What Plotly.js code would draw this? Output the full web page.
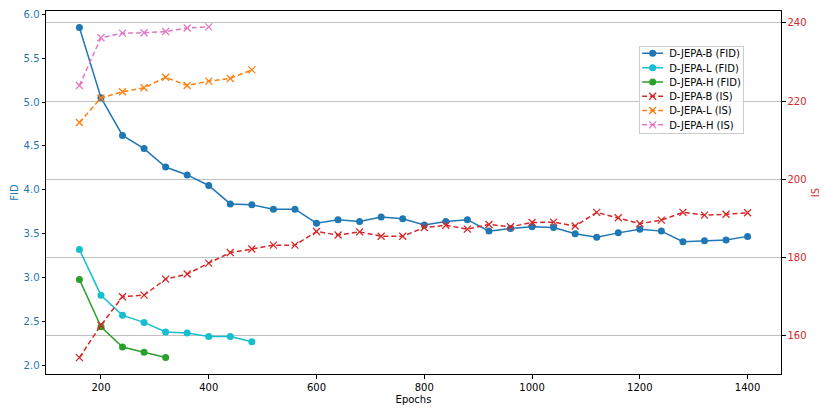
<!DOCTYPE html>
<html>
<head>
<meta charset="utf-8">
<script src="https://cdn.plot.ly/plotly-3.0.1.min.js"></script>
<style>html,body{margin:0;padding:0;background:#fff;}#chart{width:830px;height:415px;}</style>
</head>
<body>
<div id="chart"></div>
<script>
const epochsB = [160,200,240,280,320,360,400,440,480,520,560,600,640,680,720,760,800,840,880,920,960,1000,1040,1080,1120,1160,1200,1240,1280,1320,1360,1400];
const epochsL = [160,200,240,280,320,360,400,440,480];
const epochsH = [160,200,240,280,320,360,400];
const epochsHFid = [160,200,240,280,320];

const fidB = [5.85,5.05,4.62,4.47,4.26,4.17,4.05,3.84,3.83,3.78,3.78,3.62,3.66,3.64,3.69,3.67,3.60,3.64,3.66,3.53,3.56,3.58,3.57,3.50,3.46,3.51,3.55,3.53,3.41,3.42,3.43,3.47];
const fidL = [3.32,2.80,2.57,2.49,2.38,2.37,2.33,2.33,2.27];
const fidH = [2.98,2.44,2.21,2.15,2.09];

const isB = [154.3,162.6,169.9,170.3,174.4,175.7,178.5,181.2,182.1,183.1,183.1,186.6,185.7,186.5,185.4,185.4,187.6,188.2,187.2,188.4,187.8,188.9,189.0,188.0,191.5,190.1,188.6,189.5,191.5,190.8,191.0,191.4];
const isL = [214.5,220.8,222.4,223.4,226.1,224.0,225.1,225.8,228.0];
const isH = [224.0,236.2,237.4,237.5,237.8,238.7,239.0];

const names = ['D-JEPA-B (FID)','D-JEPA-L (FID)','D-JEPA-H (FID)','D-JEPA-B (IS)','D-JEPA-L (IS)','D-JEPA-H (IS)'];

function fidTrace(x, y, name, color) {
  return {x: x, y: y, name: name, type: 'scatter', mode: 'lines+markers', yaxis: 'y',
    line: {color: color, width: 1.5}, marker: {symbol: 'circle', size: 7, color: color}};
}
function isTrace(x, y, name, color) {
  return {x: x, y: y, name: name, type: 'scatter', mode: 'lines+markers', yaxis: 'y2',
    line: {color: color, width: 1.5, dash: '5px,3px'},
    marker: {symbol: 'x-thin', size: 7, color: color, line: {color: color, width: 1.3}}};
}

const data = [
  fidTrace(epochsB, fidB, names[0], '#1f77b4'),
  fidTrace(epochsL, fidL, names[1], '#17becf'),
  fidTrace(epochsHFid, fidH, names[2], '#2ca02c'),
  isTrace(epochsB, isB, names[3], '#d62728'),
  isTrace(epochsL, isL, names[4], '#ff7f0e'),
  isTrace(epochsH, isH, names[5], '#e377c2')
];

const font = {family: 'DejaVu Sans, sans-serif', size: 10, color: '#000'};
const layout = {
  width: 830, height: 415,
  margin: {l: 46, r: 49, t: 11, b: 41},
  paper_bgcolor: '#fff', plot_bgcolor: '#fff',
  font: font,
  showlegend: true,
  legend: {x: 0.807, y: 0.904, xanchor: 'left', yanchor: 'top',
    bgcolor: 'rgba(255,255,255,0.8)', bordercolor: '#cccccc', borderwidth: 1,
    font: {family: 'DejaVu Sans, sans-serif', size: 10, color: '#000'}, tracegroupgap: 0},
  xaxis: {range: [98, 1462], tickvals: [200,400,600,800,1000,1200,1400],
    showgrid: false, zeroline: false, showline: true, mirror: true, linecolor: '#000', linewidth: 1,
    ticks: 'outside', ticklen: 3.5, tickcolor: '#000',
    title: {text: 'Epochs', font: font, standoff: 4}},
  yaxis: {range: [1.902, 6.038], tickvals: [2.0,2.5,3.0,3.5,4.0,4.5,5.0,5.5,6.0], tickformat: '.1f',
    showgrid: false, zeroline: false, showline: true, linecolor: '#000', linewidth: 1,
    ticks: 'outside', ticklen: 3.5, tickcolor: '#000',
    tickfont: {family: 'DejaVu Sans, sans-serif', size: 10, color: '#1f77b4'},
    title: {text: 'FID', font: {family: 'DejaVu Sans, sans-serif', size: 10, color: '#1f77b4'}, standoff: 3}},
  yaxis2: {overlaying: 'y', side: 'right', range: [150.1, 243.07], tickvals: [160,180,200,220,240],
    showgrid: true, gridcolor: '#b0b0b0', gridwidth: 0.8, zeroline: false,
    showline: true, linecolor: '#000', linewidth: 1,
    ticks: 'outside', ticklen: 3.5, tickcolor: '#000',
    tickfont: {family: 'DejaVu Sans, sans-serif', size: 10, color: '#d62728'},
    title: {text: 'IS', font: {family: 'DejaVu Sans, sans-serif', size: 10, color: '#d62728'}, standoff: 6}}
};

// Compact the legend to resemble the reference's tighter item spacing
function compactLegend() {
  const leg = document.querySelector('#chart .legend');
  if (!leg) return;
  const spacing = 14.3, first = 7.5, boxH = 87, boxW = 104;
  leg.querySelectorAll('.traces').forEach((g, i) => {
    g.setAttribute('transform', 'translate(0,' + (first + i * spacing) + ')');
    g.querySelectorAll('.legendlines path').forEach(p => p.setAttribute('d', 'M3,0h21'));
    g.querySelectorAll('.legendpoints path').forEach(p => p.setAttribute('transform', 'translate(13.5,0)'));
    g.querySelectorAll('text.legendtext').forEach(t => {
      t.setAttribute('x', '30');
      t.querySelectorAll('tspan').forEach(s => { if (s.hasAttribute('x')) s.setAttribute('x', '30'); });
    });
    const tog = g.querySelector('rect.legendtoggle');
    if (tog) tog.setAttribute('width', boxW);
  });
  leg.querySelectorAll('rect.bg').forEach(r => { r.setAttribute('height', boxH); r.setAttribute('width', boxW); });
  leg.querySelectorAll('clipPath rect').forEach(r => { r.setAttribute('height', boxH); r.setAttribute('width', boxW); });
  const defs = document.querySelectorAll('#chart defs clipPath[id*="legend"] rect');
  defs.forEach(r => { r.setAttribute('height', boxH); r.setAttribute('width', boxW); });
}

Plotly.newPlot('chart', data, layout, {displayModeBar: false, staticPlot: true}).then(compactLegend);
</script>
</body>
</html>
